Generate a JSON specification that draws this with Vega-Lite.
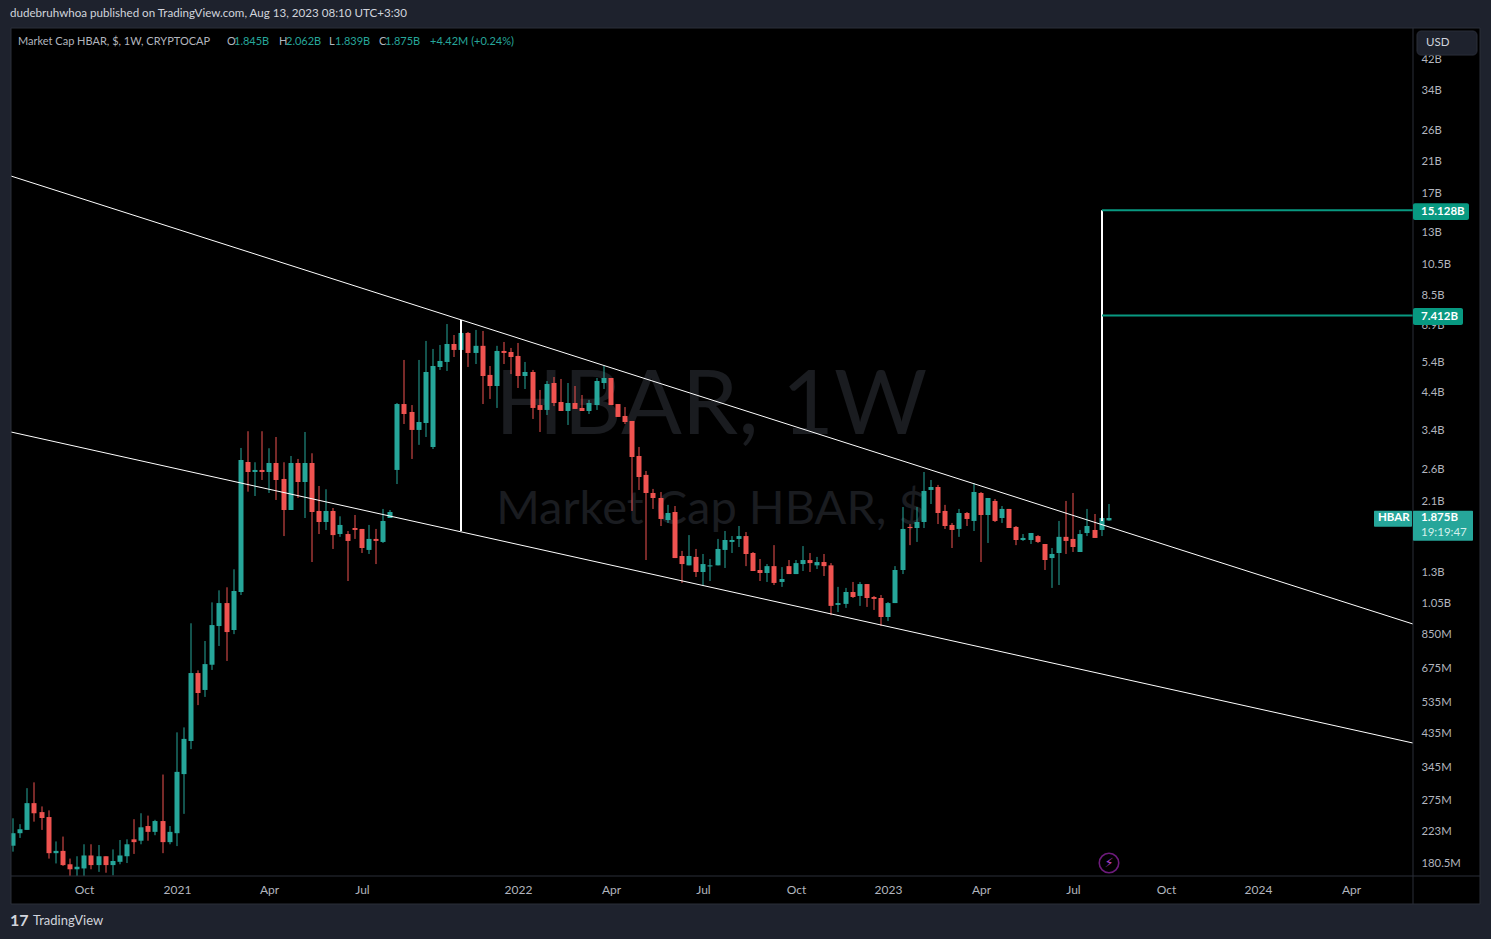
{"$schema":"https://vega.github.io/schema/vega-lite/v6.json","width":1402,"height":848,"autosize":"none","padding":{"left":11,"top":28,"right":78,"bottom":63},"background":"#000000","config":{"view":{"stroke":null},"font":"Lato"},
"datasets":{"candles":[
{"bar":0,"open":0.203,"high":0.2445,"low":0.195,"close":0.221},{"bar":1,"open":0.221,"high":0.235,"low":0.214,"close":0.227},{"bar":2,"open":0.226,"high":0.3,"low":0.226,"close":0.271},{"bar":3,"open":0.271,"high":0.312,"low":0.239,"close":0.253},{"bar":4,"open":0.255,"high":0.265,"low":0.226,"close":0.245},{"bar":5,"open":0.2466,"high":0.258,"low":0.186,"close":0.193},{"bar":6,"open":0.193,"high":0.209,"low":0.18,"close":0.196},{"bar":7,"open":0.196,"high":0.216,"low":0.177,"close":0.178},{"bar":8,"open":0.179,"high":0.186,"low":0.162,"close":0.173},{"bar":9,"open":0.173,"high":0.189,"low":0.163,"close":0.176},
{"bar":10,"open":0.174,"high":0.205,"low":0.163,"close":0.19},{"bar":11,"open":0.19,"high":0.205,"low":0.173,"close":0.178},{"bar":12,"open":0.178,"high":0.204,"low":0.17,"close":0.189},{"bar":13,"open":0.189,"high":0.189,"low":0.169,"close":0.178},{"bar":14,"open":0.178,"high":0.198,"low":0.166,"close":0.183},{"bar":15,"open":0.182,"high":0.211,"low":0.179,"close":0.19},{"bar":16,"open":0.189,"high":0.212,"low":0.1805,"close":0.205},{"bar":17,"open":0.212,"high":0.243,"low":0.192,"close":0.208},{"bar":18,"open":0.21,"high":0.253,"low":0.205,"close":0.23},{"bar":19,"open":0.232,"high":0.249,"low":0.21,"close":0.223},
{"bar":20,"open":0.223,"high":0.242,"low":0.218,"close":0.24},{"bar":21,"open":0.24,"high":0.329,"low":0.193,"close":0.208},{"bar":22,"open":0.208,"high":0.232,"low":0.205,"close":0.223},{"bar":23,"open":0.221,"high":0.438,"low":0.2025,"close":0.335},{"bar":24,"open":0.33,"high":0.453,"low":0.252,"close":0.419},{"bar":25,"open":0.413,"high":0.918,"low":0.391,"close":0.655},{"bar":26,"open":0.655,"high":0.667,"low":0.527,"close":0.572},{"bar":27,"open":0.584,"high":0.814,"low":0.557,"close":0.696},{"bar":28,"open":0.693,"high":1.058,"low":0.669,"close":0.907},{"bar":29,"open":0.901,"high":1.148,"low":0.787,"close":1.053},
{"bar":30,"open":1.053,"high":1.172,"low":0.711,"close":0.865},{"bar":31,"open":0.877,"high":1.324,"low":0.853,"close":1.143},{"bar":32,"open":1.135,"high":3.016,"low":1.112,"close":2.78},{"bar":33,"open":2.742,"high":3.378,"low":2.242,"close":2.562},{"bar":34,"open":2.562,"high":2.737,"low":2.177,"close":2.598},{"bar":35,"open":2.598,"high":3.378,"low":2.427,"close":2.562},{"bar":36,"open":2.562,"high":3.01,"low":2.222,"close":2.723},{"bar":37,"open":2.723,"high":3.249,"low":2.119,"close":2.427},{"bar":38,"open":2.444,"high":2.737,"low":1.659,"close":1.98},{"bar":39,"open":1.98,"high":2.856,"low":1.98,"close":2.723},
{"bar":40,"open":2.723,"high":2.799,"low":2.148,"close":2.394},{"bar":41,"open":2.394,"high":3.361,"low":1.875,"close":2.723},{"bar":42,"open":2.723,"high":2.909,"low":1.391,"close":1.953},{"bar":43,"open":1.967,"high":2.33,"low":1.682,"close":1.825},{"bar":44,"open":1.825,"high":2.279,"low":1.729,"close":1.967},{"bar":45,"open":1.967,"high":2.007,"low":1.52,"close":1.67},{"bar":46,"open":1.682,"high":1.897,"low":1.65,"close":1.789},{"bar":47,"open":1.682,"high":1.717,"low":1.223,"close":1.605},{"bar":48,"open":1.752,"high":1.914,"low":1.627,"close":1.729},{"bar":49,"open":1.741,"high":1.741,"low":1.479,"close":1.53},
{"bar":50,"open":1.51,"high":1.789,"low":1.469,"close":1.627},{"bar":51,"open":1.627,"high":1.741,"low":1.372,"close":1.605},{"bar":52,"open":1.594,"high":1.994,"low":1.583,"close":1.838},{"bar":53,"open":1.875,"high":1.98,"low":1.875,"close":1.953},{"bar":54,"open":2.598,"high":4.092,"low":2.361,"close":4.063},{"bar":55,"open":4.063,"high":5.479,"low":3.548,"close":3.797},{"bar":56,"open":3.85,"high":4.035,"low":2.799,"close":3.408},{"bar":57,"open":3.408,"high":5.479,"low":3.08,"close":3.597},{"bar":58,"open":3.572,"high":6.233,"low":3.249,"close":5.05},{"bar":59,"open":3.036,"high":5.904,"low":2.995,"close":5.259},
{"bar":60,"open":5.224,"high":6.065,"low":5.12,"close":5.442},{"bar":61,"open":5.405,"high":6.99,"low":5.085,"close":6.106},{"bar":62,"open":6.106,"high":6.49,"low":5.59,"close":5.864},{"bar":63,"open":5.864,"high":7.188,"low":5.864,"close":6.58},{"bar":64,"open":6.58,"high":6.625,"low":5.224,"close":5.745},{"bar":65,"open":5.745,"high":6.716,"low":5.33,"close":6.03},{"bar":66,"open":6.03,"high":6.67,"low":4.063,"close":4.914},{"bar":67,"open":4.95,"high":5.259,"low":4.205,"close":4.592},{"bar":68,"open":4.592,"high":6.03,"low":3.956,"close":5.824},{"bar":69,"open":5.824,"high":6.19,"low":5.33,"close":5.745},
{"bar":70,"open":5.784,"high":5.944,"low":4.98,"close":5.59},{"bar":71,"open":5.63,"high":6.148,"low":4.53,"close":4.914},{"bar":72,"open":4.914,"high":5.405,"low":4.5,"close":5.05},{"bar":73,"open":5.05,"high":5.12,"low":3.672,"close":3.956},{"bar":74,"open":4.035,"high":4.47,"low":3.361,"close":3.903},{"bar":75,"open":3.903,"high":4.75,"low":3.772,"close":4.654},{"bar":76,"open":4.686,"high":4.88,"low":4.007,"close":4.092},{"bar":77,"open":4.12,"high":4.816,"low":3.876,"close":3.876},{"bar":78,"open":3.876,"high":4.686,"low":3.525,"close":4.092},{"bar":79,"open":4.092,"high":4.592,"low":3.93,"close":3.93},
{"bar":80,"open":3.956,"high":4.32,"low":3.876,"close":3.876},{"bar":81,"open":3.876,"high":4.177,"low":3.797,"close":4.092},{"bar":82,"open":4.035,"high":4.848,"low":3.903,"close":4.75},{"bar":83,"open":4.686,"high":5.259,"low":4.5,"close":4.848},{"bar":84,"open":4.848,"high":4.848,"low":4.035,"close":4.035},{"bar":85,"open":4.063,"high":4.063,"low":3.722,"close":3.722},{"bar":86,"open":3.747,"high":3.98,"low":3.548,"close":3.597},{"bar":87,"open":3.622,"high":3.622,"low":1.967,"close":2.837},{"bar":88,"open":2.856,"high":3.036,"low":2.268,"close":2.477},{"bar":89,"open":2.512,"high":2.58,"low":1.41,"close":2.222},
{"bar":90,"open":2.222,"high":2.284,"low":1.994,"close":2.148},{"bar":91,"open":2.148,"high":2.237,"low":1.776,"close":1.863},{"bar":92,"open":1.85,"high":2.05,"low":1.813,"close":1.94},{"bar":93,"open":1.953,"high":2.034,"low":1.429,"close":1.429},{"bar":94,"open":1.449,"high":1.5,"low":1.207,"close":1.372},{"bar":95,"open":1.36,"high":1.67,"low":1.36,"close":1.449},{"bar":96,"open":1.44,"high":1.52,"low":1.257,"close":1.3},{"bar":97,"open":1.3,"high":1.469,"low":1.183,"close":1.372},{"bar":98,"open":1.35,"high":1.42,"low":1.223,"close":1.36},{"bar":99,"open":1.36,"high":1.627,"low":1.36,"close":1.52},
{"bar":100,"open":1.51,"high":1.717,"low":1.336,"close":1.6155},{"bar":101,"open":1.594,"high":1.659,"low":1.479,"close":1.6155},{"bar":102,"open":1.627,"high":1.776,"low":1.54,"close":1.659},{"bar":103,"open":1.659,"high":1.705,"low":1.353,"close":1.469},{"bar":104,"open":1.479,"high":1.489,"low":1.309,"close":1.309},{"bar":105,"open":1.318,"high":1.42,"low":1.223,"close":1.291},{"bar":106,"open":1.291,"high":1.372,"low":1.215,"close":1.353},{"bar":107,"open":1.353,"high":1.56,"low":1.19,"close":1.207},{"bar":108,"open":1.215,"high":1.344,"low":1.175,"close":1.24},{"bar":109,"open":1.353,"high":1.41,"low":1.282,"close":1.282},
{"bar":110,"open":1.282,"high":1.41,"low":1.282,"close":1.381},{"bar":111,"open":1.372,"high":1.55,"low":1.309,"close":1.41},{"bar":112,"open":1.41,"high":1.479,"low":1.3,"close":1.381},{"bar":113,"open":1.36,"high":1.44,"low":1.327,"close":1.391},{"bar":114,"open":1.391,"high":1.469,"low":1.265,"close":1.353},{"bar":115,"open":1.36,"high":1.381,"low":0.97,"close":1.033},{"bar":116,"open":1.04,"high":1.175,"low":0.991,"close":1.053},{"bar":117,"open":1.047,"high":1.167,"low":1.019,"close":1.135},{"bar":118,"open":1.135,"high":1.215,"low":1.09,"close":1.097},{"bar":119,"open":1.105,"high":1.215,"low":1.033,"close":1.198},
{"bar":120,"open":1.198,"high":1.198,"low":1.026,"close":1.09},{"bar":121,"open":1.097,"high":1.105,"low":1.005,"close":1.083},{"bar":122,"open":1.09,"high":1.112,"low":0.901,"close":0.958},{"bar":123,"open":0.958,"high":1.06,"low":0.932,"close":1.053},{"bar":124,"open":1.053,"high":1.353,"low":1.053,"close":1.318},{"bar":125,"open":1.318,"high":2.02,"low":1.282,"close":1.741},{"bar":126,"open":1.765,"high":1.8,"low":1.56,"close":1.752},{"bar":127,"open":1.752,"high":2.02,"low":1.594,"close":1.825},{"bar":128,"open":1.825,"high":2.562,"low":1.752,"close":2.253},{"bar":129,"open":2.268,"high":2.427,"low":2.062,"close":2.314},
{"bar":130,"open":2.314,"high":2.347,"low":1.8,"close":1.94},{"bar":131,"open":1.967,"high":2.05,"low":1.741,"close":1.776},{"bar":132,"open":1.789,"high":1.813,"low":1.53,"close":1.729},{"bar":133,"open":1.741,"high":1.994,"low":1.65,"close":1.94},{"bar":134,"open":1.94,"high":1.953,"low":1.776,"close":1.863},{"bar":135,"open":1.838,"high":2.378,"low":1.717,"close":2.237},{"bar":136,"open":2.222,"high":2.237,"low":1.391,"close":1.914},{"bar":137,"open":1.914,"high":2.148,"low":1.583,"close":2.148},{"bar":138,"open":2.105,"high":2.133,"low":1.825,"close":1.838},{"bar":139,"open":1.875,"high":2.034,"low":1.813,"close":1.994},
{"bar":140,"open":1.994,"high":1.994,"low":1.752,"close":1.752},{"bar":141,"open":1.765,"high":1.776,"low":1.56,"close":1.6155},{"bar":142,"open":1.6155,"high":1.682,"low":1.605,"close":1.638},{"bar":143,"open":1.6155,"high":1.694,"low":1.572,"close":1.694},{"bar":144,"open":1.659,"high":1.67,"low":1.583,"close":1.594},{"bar":145,"open":1.572,"high":1.572,"low":1.318,"close":1.41},{"bar":146,"open":1.429,"high":1.53,"low":1.167,"close":1.469},{"bar":147,"open":1.479,"high":1.838,"low":1.19,"close":1.65},{"bar":148,"open":1.65,"high":2.105,"low":1.469,"close":1.605},{"bar":149,"open":1.627,"high":2.222,"low":1.489,"close":1.54},
{"bar":150,"open":1.489,"high":1.729,"low":1.489,"close":1.682},{"bar":151,"open":1.694,"high":1.994,"low":1.659,"close":1.776},{"bar":152,"open":1.729,"high":1.927,"low":1.638,"close":1.638},{"bar":153,"open":1.729,"high":1.994,"low":1.659,"close":1.875},{"bar":154,"open":1.845,"high":2.062,"low":1.839,"close":1.875}
],
"trend":[{"name":"upper","bar":-0.3,"value":19.08},{"name":"upper","bar":196.75,"value":0.9134},{"name":"lower","bar":-0.3,"value":3.361},{"name":"lower","bar":196.75,"value":0.4074}]},
"layer":[
{"data":{"values":[{"label":"HBAR, 1W","bar":98.08,"value":3.98}]},"mark":{"type":"text","font":"Lato","fontSize":90,"fill":"#1a1c20","align":"center","baseline":"middle"},"encoding":{"x":{"field":"bar","type":"quantitative","scale":{"domain":[-0.3,196.75],"nice":false,"zero":false,"padding":0,"round":true},"axis":{"orient":"bottom","values":[10,23,36,49,71,84,97,110,123,136,149,162,175,188],"labelExpr":"{10:'Oct',23:'2021',36:'Apr',49:'Jul',71:'2022',84:'Apr',97:'Jul',110:'Oct',123:'2023',136:'Apr',149:'Jul',162:'Oct',175:'2024',188:'Apr'}[datum.value]","title":null,"grid":false,"domain":false,"ticks":false,"labelColor":"#b2b5be","labelFontSize":12,"labelPadding":8,"labelFlush":false,"labelOverlap":false}},"y":{"field":"value","type":"quantitative","scale":{"type":"log","domain":[0.1653,52.09],"nice":false},"axis":{"orient":"right","values":[42,34,26,21,17,13,10.5,8.5,6.9,5.4,4.4,3.4,2.6,2.1,1.3,1.05,0.85,0.675,0.535,0.435,0.345,0.275,0.223,0.1805],"labelExpr":"datum.value>=1?datum.value+'B':format(datum.value*1000,'.4~r')+'M'","title":null,"grid":false,"domain":false,"ticks":false,"labelColor":"#b2b5be","labelFontSize":11.3,"labelPadding":8,"labelFlush":false,"labelOverlap":false}},"text":{"field":"label"}}},
{"data":{"values":[{"label":"Market Cap HBAR, $","bar":98.08,"value":1.98}]},"mark":{"type":"text","font":"Lato","fontSize":47,"fill":"#1a1c20","align":"center","baseline":"middle"},"encoding":{"x":{"field":"bar","type":"quantitative"},"y":{"field":"value","type":"quantitative"},"text":{"field":"label"}}},
{"data":{"name":"candles"},"mark":{"type":"rule","strokeWidth":1,"clip":true},"encoding":{"x":{"field":"bar","type":"quantitative"},"y":{"field":"low","type":"quantitative"},"y2":{"field":"high"},"color":{"condition":{"test":"datum.close>=datum.open","value":"#26a69a"},"value":"#ef5350"}}},
{"data":{"name":"candles"},"mark":{"type":"bar","width":5,"orient":"vertical","clip":true},"encoding":{"x":{"field":"bar","type":"quantitative"},"y":{"field":"open","type":"quantitative"},"y2":{"field":"close"},"color":{"condition":{"test":"datum.close>=datum.open","value":"#26a69a"},"value":"#ef5350"}}},
{"data":{"name":"trend"},"mark":{"type":"line","color":"#ffffff","strokeWidth":1,"clip":true},"encoding":{"x":{"field":"bar","type":"quantitative"},"y":{"field":"value","type":"quantitative"},"detail":{"field":"name"}}},
{"data":{"values":[{"bar":63,"from":1.717,"to":7.19},{"bar":153,"from":1.838,"to":15.128}]},"mark":{"type":"rule","color":"#ffffff","strokeWidth":2},"encoding":{"x":{"field":"bar","type":"quantitative"},"y":{"field":"from","type":"quantitative"},"y2":{"field":"to"}}},
{"data":{"values":[{"bar":153,"bar2":196.75,"value":15.128},{"bar":153,"bar2":196.75,"value":7.412}]},"mark":{"type":"rule","color":"#089981","strokeWidth":2},"encoding":{"x":{"field":"bar","type":"quantitative"},"x2":{"field":"bar2"},"y":{"field":"value","type":"quantitative"}}},
{"data":{"values":[{"bar":154,"value":0.1805}]},"mark":{"type":"point","shape":"circle","size":380,"filled":false,"stroke":"#9c27b0","strokeWidth":1.6},"encoding":{"x":{"field":"bar","type":"quantitative"},"y":{"field":"value","type":"quantitative"}}},
{"data":{"values":[{"bar":154,"value":0.1805,"label":"⚡"}]},"mark":{"type":"text","font":"DejaVu Sans","fontSize":13,"fill":"#b040c8","align":"center","baseline":"middle"},"encoding":{"x":{"field":"bar","type":"quantitative"},"y":{"field":"value","type":"quantitative"},"text":{"field":"label"}}},
{"data":{"values":[{"a":-2.13,"b":208,"c":63.8,"d":52.09},{"a":-2.13,"b":-0.3,"c":63.8,"d":0.1},{"a":206.17,"b":208,"c":63.8,"d":0.1},{"a":-2.13,"b":208,"c":0.1367,"d":0.1}]},"mark":{"type":"rect","fill":"#1e222d"},"encoding":{"x":{"field":"a","type":"quantitative"},"x2":{"field":"b"},"y":{"field":"c","type":"quantitative"},"y2":{"field":"d"}}},
{"data":{"values":[{"a":-0.3,"b":206.17,"c":52.09,"d":52.09},{"a":-0.3,"b":206.17,"c":0.1653,"d":0.1653},{"a":-0.3,"b":206.17,"c":0.1367,"d":0.1367},{"a":-0.3,"b":-0.3,"c":52.09,"d":0.1367},{"a":196.75,"b":196.75,"c":52.09,"d":0.1367},{"a":206.17,"b":206.17,"c":52.09,"d":0.1367}]},"mark":{"type":"rule","color":"#2a2e39","strokeWidth":1},"encoding":{"x":{"field":"a","type":"quantitative"},"x2":{"field":"b"},"y":{"field":"c","type":"quantitative"},"y2":{"field":"d"}}},
{"data":{"values":[{"a":197.31,"b":205.74,"c":51.03,"d":43.36}]},"mark":{"type":"rect","fill":"#1e222d","stroke":"#2a2e39","cornerRadius":4},"encoding":{"x":{"field":"a","type":"quantitative"},"x2":{"field":"b"},"y":{"field":"c","type":"quantitative"},"y2":{"field":"d"}}},
{"data":{"values":[{"a":196.75,"b":204.62,"c":15.86,"d":14.15},{"a":196.75,"b":203.78,"c":7.79,"d":6.944}]},"mark":{"type":"rect","fill":"#089981","cornerRadius":2},"encoding":{"x":{"field":"a","type":"quantitative"},"x2":{"field":"b"},"y":{"field":"c","type":"quantitative"},"y2":{"field":"d"}}},
{"data":{"values":[{"a":191.27,"b":196.6,"c":1.97,"d":1.767},{"a":196.75,"b":205.18,"c":1.97,"d":1.607}]},"mark":{"type":"rect","fill":"#26a69a","cornerRadius":1},"encoding":{"x":{"field":"a","type":"quantitative"},"x2":{"field":"b"},"y":{"field":"c","type":"quantitative"},"y2":{"field":"d"}}},
{"data":{"values":[{"label":"dudebruhwhoa published on TradingView.com, Aug 13, 2023 08:10 UTC+3:30","bar":-0.44,"value":57.3}]},"mark":{"type":"text","fontSize":11.6,"fill":"#d1d4dc","align":"left","baseline":"middle"},"encoding":{"x":{"field":"bar","type":"quantitative"},"y":{"field":"value","type":"quantitative"},"text":{"field":"label"}}},
{"data":{"values":[{"label":"TradingView","bar":2.79,"value":0.1214}]},"mark":{"type":"text","fontSize":13,"fill":"#d1d4dc","align":"left","baseline":"middle"},"encoding":{"x":{"field":"bar","type":"quantitative"},"y":{"field":"value","type":"quantitative"},"text":{"field":"label"}}},
{"data":{"values":[{"label":"USD","bar":198.57,"value":47.04}]},"mark":{"type":"text","fontSize":11.5,"fill":"#d1d4dc","align":"left","baseline":"middle"},"encoding":{"x":{"field":"bar","type":"quantitative"},"y":{"field":"value","type":"quantitative"},"text":{"field":"label"}}},
{"data":{"values":[{"label":"17","bar":-0.44,"value":0.1214}]},"mark":{"type":"text","fontSize":16,"fontWeight":"bold","fill":"#d1d4dc","align":"left","baseline":"middle"},"encoding":{"x":{"field":"bar","type":"quantitative"},"y":{"field":"value","type":"quantitative"},"text":{"field":"label"}}},
{"data":{"values":[{"label":"Market Cap HBAR, $, 1W, CRYPTOCAP","bar":0.684,"value":47.5},{"label":"O","bar":30.06,"value":47.5},{"label":"H","bar":37.37,"value":47.5},{"label":"L","bar":44.46,"value":47.5},{"label":"C","bar":51.42,"value":47.5}]},"mark":{"type":"text","fontSize":11,"fill":"#b2b5be","align":"left","baseline":"middle"},"encoding":{"x":{"field":"bar","type":"quantitative"},"y":{"field":"value","type":"quantitative"},"text":{"field":"label"}}},
{"data":{"values":[{"label":"1.845B","bar":31.04,"value":47.5},{"label":"2.062B","bar":38.35,"value":47.5},{"label":"1.839B","bar":45.3,"value":47.5},{"label":"1.875B","bar":52.33,"value":47.5},{"label":"+4.42M (+0.24%)","bar":58.59,"value":47.5}]},"mark":{"type":"text","fontSize":11,"fill":"#26a69a","align":"left","baseline":"middle"},"encoding":{"x":{"field":"bar","type":"quantitative"},"y":{"field":"value","type":"quantitative"},"text":{"field":"label"}}},
{"data":{"values":[{"label":"15.128B","bar":197.87,"value":15.0},{"label":"7.412B","bar":197.87,"value":7.33},{"label":"1.875B","bar":197.87,"value":1.875},{"label":"HBAR","bar":191.83,"value":1.875}]},"mark":{"type":"text","fontSize":11.5,"fontWeight":"bold","fill":"#ffffff","align":"left","baseline":"middle"},"encoding":{"x":{"field":"bar","type":"quantitative"},"y":{"field":"value","type":"quantitative"},"text":{"field":"label"}}},
{"data":{"values":[{"label":"19:19:47","bar":197.87,"value":1.694}]},"mark":{"type":"text","fontSize":11.5,"fill":"#d4f0ec","align":"left","baseline":"middle"},"encoding":{"x":{"field":"bar","type":"quantitative"},"y":{"field":"value","type":"quantitative"},"text":{"field":"label"}}}
]}
